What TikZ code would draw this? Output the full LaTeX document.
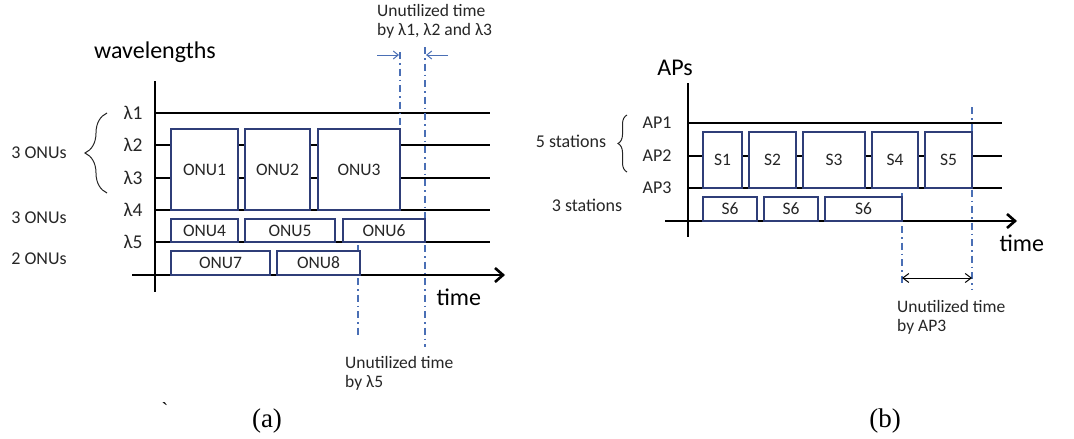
\documentclass[tikz,border=0pt]{standalone}
\usepackage{fontspec}
\setmainfont{Carlito}
\newfontfamily\capfont{Liberation Serif}
\usetikzlibrary{arrows.meta, positioning, decorations.pathreplacing}
\definecolor{cnavy}{HTML}{2F3E78}
\definecolor{cdash}{HTML}{4A6FB5}
\definecolor{ctext}{HTML}{262626}
\tikzset{
  every picture/.style={x=1pt, y=-1pt, line width=2.4pt},
  lane/.style={draw=black, line width=2.6pt},
  slot/.style={draw=cnavy, fill=white, line width=2pt, inner sep=0pt, outer sep=0pt, anchor=north west, font=\fontsize{17.5}{20}\selectfont, text=ctext},
  lab/.style={font=\fontsize{18}{22}\selectfont, text=ctext},
  big/.style={font=\fontsize{24}{28}\selectfont},
  note/.style={font=\fontsize{17.5}{19}\selectfont, text=ctext, align=left, anchor=west, inner sep=0pt},
  gap/.style={draw=cdash, line width=1.4pt, dash pattern=on 7pt off 4pt on 1.5pt off 4pt},
  grp/.style={draw=ctext, line width=1pt, decorate, decoration={brace, amplitude=#1}},
  grp/.default=20pt,
  tip/.style={-{Straight Barb[length=5pt, width=8pt]}, line width=1pt},
}

\begin{document}
\begin{tikzpicture}
  \useasboundingbox (0,0) rectangle (1074,439);

  % (a) wavelengths
  \node[big] (wl) at (155,52) {wavelengths};
  \foreach \n/\y in {1/113, 2/145, 3/178, 4/210, 5/242} {
    \node[lab, font=\fontsize{19.5}{22}\selectfont] (lam\n) at (133,\y) {λ\n};
    \draw[lane] (155,\y) -- (490,\y);
  }
  \draw[lane] (155,81) -- (155,292);
  \draw[lane, -{Straight Barb[length=8pt, width=14pt]}] (132,275) -- (505,275);
  \draw[gap] (400,52) -- (400,210);
  \draw[gap] (425,47) -- (425,347);
  \draw[gap] (358,245) -- (358,338);
  \foreach \nm/\x/\w in {ONU1/171/67, ONU2/245/65, ONU3/318/82}
    \node[slot, minimum width=\w pt, minimum height=81pt] (\nm) at (\x,129) {\nm};
  \foreach \nm/\x/\w in {ONU4/171/67, ONU5/245/90, ONU6/343/82}
    \node[slot, minimum width=\w pt, minimum height=23pt] (\nm) at (\x,219) {\nm};
  \foreach \nm/\x/\w in {ONU7/171/99, ONU8/277/83}
    \node[slot, minimum width=\w pt, minimum height=24pt] (\nm) at (\x,251) {\nm};
  \draw[grp=22pt] (107,193) -- (107,113);
  \node[lab] (g1) at (39,153) {3 ONUs};
  \node[lab] (g2) at (39,218) {3 ONUs};
  \node[lab] (g3) at (39,259) {2 ONUs};
  \node[note] (ua) at (376,21) {Unutilized time\\by λ1, λ2 and λ3};
  \coordinate (ua1) at (377,55);
  \coordinate (ua2) at (448,55);
  \draw[tip, cdash] (ua1) -- (399,55);
  \draw[tip, cdash] (ua2) -- (426,55);
  \node[big, anchor=west] (ta) at (432,297) {time};
  \node[note] (ub) at (344,373) {Unutilized time\\by λ5};
  \node (tick) at (165,410) {\capfont\fontsize{20}{22}\selectfont\symbol{96}};
  \node[font=\capfont\fontsize{27}{30}\selectfont] (capa) at (267,421) {(a)};

  % (b) access points
  \node[big] (aps) at (675,68) {APs};
  \foreach \n/\y in {1/123, 2/156, 3/188} {
    \node[lab] (ap\n) at (657,\y) {AP\n};
    \draw[lane] (688,\y) -- (1002,\y);
  }
  \draw[lane] (688,83) -- (688,237);
  \draw[lane, -{Straight Barb[length=8pt, width=14pt]}] (665,221) -- (1017,221);
  \draw[gap] (972,107) -- (972,290);
  \draw[gap] (902,193) -- (902,283);
  \foreach \nm/\x/\w in {S1/703/39, S2/749/47, S3/803/62, S4/872/46, S5/925/47}
    \node[slot, minimum width=\w pt, minimum height=56pt] (\nm) at (\x,132) {\nm};
  \foreach \nm/\x/\w in {a/703/54, b/764/54, c/825/77}
    \node[slot, minimum width=\w pt, minimum height=24pt] (S6\nm) at (\x,197) {S6};
  \draw[grp=9pt] (627,172) -- (627,115);
  \node[lab] (st5) at (571,141) {5 stations};
  \node[lab] (st3) at (587,205) {3 stations};
  \coordinate (ub1) at (902,278);
  \coordinate (ub2) at (972,278);
  \draw[{Straight Barb[length=6pt, width=9pt]}-{Straight Barb[length=6pt, width=9pt]}, line width=1pt] (ub1) -- (ub2);
  \node[big, anchor=west] (tb) at (995,243) {time};
  \node[note] (uc) at (896,317) {Unutilized time\\by AP3};
  \node[font=\capfont\fontsize{27}{30}\selectfont] (capb) at (885,421) {(b)};
\end{tikzpicture}
\end{document}
